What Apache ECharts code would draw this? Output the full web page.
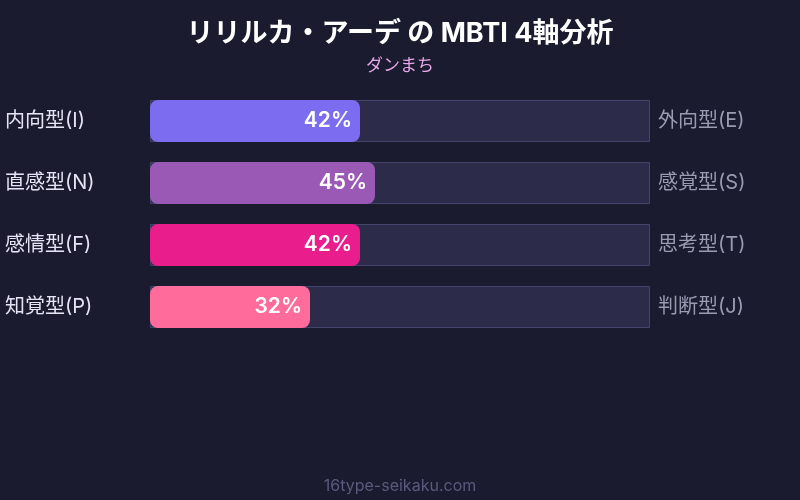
<!DOCTYPE html>
<html><head><meta charset="utf-8">
<script src="https://cdn.jsdelivr.net/npm/echarts@6/dist/echarts.min.js"></script>
<style>html,body{margin:0;padding:0;background:#1a1b2e;}#c{width:800px;height:500px;}</style>
</head><body><div id="c"></div>
<script>
const leftLabels = ['内向型(I)', '直感型(N)', '感情型(F)', '知覚型(P)'];
const rightLabels = ['外向型(E)', '感覚型(S)', '思考型(T)', '判断型(J)'];
const values = [42, 45, 42, 32];
const barColors = ['#7b6cf0', '#9b59b6', '#e91e8c', '#ff6b9a'];
const trackMax = 100;

const font = 'Inter, "Noto Sans CJK JP", sans-serif';
const chart = echarts.init(document.getElementById('c'), null, {renderer: 'canvas'});
chart.setOption({
  backgroundColor: '#1a1b2e',
  animation: false,
  title: [
    {text: 'リリルカ・アーデ の MBTI 4軸分析', left: 'center', top: 15,
     textStyle: {color: '#ffffff', fontSize: 27, fontWeight: 'bold', fontFamily: font}},
    {text: 'ダンまち', left: 'center', top: 52,
     textStyle: {color: '#e8a8e8', fontSize: 17, fontWeight: 'normal', fontFamily: font}},
    {text: '16type-seikaku.com', left: 'center', top: 473,
     textStyle: {color: '#5a5a7e', fontSize: 16, fontWeight: 'normal', fontFamily: font}}
  ],
  grid: {left: 150, right: 150, top: 90, bottom: 162},
  xAxis: {type: 'value', min: 0, max: trackMax, show: false},
  yAxis: [
    {type: 'category', data: leftLabels, inverse: true,
     axisLine: {show: false}, axisTick: {show: false},
     axisLabel: {color: '#e4e4f4', fontSize: 20, fontFamily: font, align: 'left', margin: 145,
                 padding: [3, 0, 0, 0]}},
    {type: 'category', data: rightLabels, inverse: true, position: 'right',
     axisLabel: {color: '#9a9ab2', fontSize: 20, fontFamily: font, align: 'left', margin: 8,
                 padding: [3, 0, 0, 0]},
     axisLine: {show: false}, axisTick: {show: false}}
  ],
  series: [
    {type: 'bar', barWidth: 42, barGap: '-100%', silent: true, z: 1,
     data: leftLabels.map(() => trackMax),
     itemStyle: {color: '#2c2c4a', borderColor: '#44446a', borderWidth: 1}},
    {type: 'bar', barWidth: 42, z: 2,
     data: values.map((v, i) => ({value: v, itemStyle: {color: barColors[i]}})),
     itemStyle: {borderRadius: 8},
     label: {show: true, position: 'insideRight', formatter: '{c}%', color: '#ffffff',
             fontSize: 21, fontWeight: 600, fontFamily: font, distance: 8,
             padding: [4, 0, 0, 0]}}
  ]
});
</script></body></html>
